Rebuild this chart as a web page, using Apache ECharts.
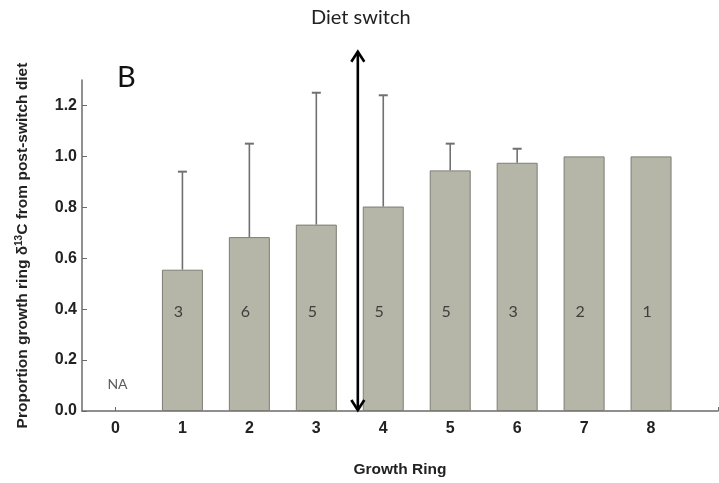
<!DOCTYPE html>
<html><head><meta charset="utf-8">
<script src="https://cdn.jsdelivr.net/npm/echarts@6/dist/echarts.min.js"></script>
<style>html,body{margin:0;padding:0;background:#fff}#c{width:719px;height:483px}</style>
</head><body><div id="c"></div>
<script>
const rings = [1, 2, 3, 4, 5, 6, 7, 8];
const proportions = [0.555, 0.683, 0.732, 0.803, 0.945, 0.975, 1.0, 1.0];
const upperErrors = [0.94, 1.05, 1.25, 1.24, 1.05, 1.03, null, null];
const sampleSizes = ['3', '6', '5', '5', '5', '3', '2', '1'];
const naRing = 0;
const naLabel = 'NA';
const xTickLabels = [0, 1, 2, 3, 4, 5, 6, 7, 8];
const yTickLabels = [0, 0.2, 0.4, 0.6, 0.8, 1.0, 1.2];
const dietSwitchRing = 3.62;
const dietSwitchTop = 1.415;

const barData = rings.map((r, i) => [r, proportions[i]]);
const errData = rings.map((r, i) => [r, proportions[i], upperErrors[i]]).filter(d => d[2] != null);
const countData = rings.map((r, i) => ({ value: [r, 0.39], name: sampleSizes[i] }));

const chart = echarts.init(document.getElementById('c'), null, { renderer: 'canvas' });
const axisColor = '#6b6b6b';
const boldFont = "'Liberation Sans', Arial, sans-serif";
const plainFont = "Lato, 'Open Sans', sans-serif";

chart.setOption({
  animation: false,
  backgroundColor: '#fff',
  title: [
    { text: 'Diet switch', left: 306, top: 3, textStyle: { fontFamily: plainFont, fontWeight: 'normal', fontSize: 20, color: '#222' } },
    { text: 'B', left: 112, top: 58, textStyle: { fontFamily: plainFont, fontWeight: 'normal', fontSize: 29, color: '#111' } }
  ],
  grid: { left: 82, right: 1, top: 80, bottom: 72, containLabel: false },
  xAxis: {
    type: 'value', min: -0.5, max: 9,
    name: 'Growth Ring', nameLocation: 'middle', nameGap: 51,
    nameTextStyle: { fontFamily: boldFont, fontWeight: 'bold', fontSize: 15.5, color: '#222' },
    axisLine: { show: true, onZero: false, lineStyle: { color: axisColor, width: 1.5 } },
    axisTick: { show: true, inside: true, length: 4, customValues: [0, 1, 2, 3, 4, 5, 6, 7, 8, 9], lineStyle: { color: axisColor } },
    axisLabel: { customValues: xTickLabels, fontFamily: boldFont, fontWeight: 'bold', fontSize: 16, color: '#222', margin: 10, formatter: v => String(v) },
    splitLine: { show: false }
  },
  yAxis: {
    type: 'value', min: 0, max: 1.3,
    name: 'Proportion growth ring δ{sup|13}C from post-switch diet',
    nameLocation: 'middle', nameGap: 51, nameRotate: 90,
    nameTextStyle: { fontFamily: boldFont, fontWeight: 'bold', fontSize: 15.5, color: '#222',
      rich: { sup: { fontFamily: boldFont, fontWeight: 'bold', fontSize: 10, color: '#222', verticalAlign: 'top', padding: [0, 0, 7, 0] } } },
    axisLine: { show: true, onZero: false, lineStyle: { color: axisColor, width: 1.5 } },
    axisTick: { show: true, inside: true, length: 5, customValues: yTickLabels, lineStyle: { color: axisColor } },
    axisLabel: { customValues: yTickLabels, fontFamily: boldFont, fontWeight: 'bold', fontSize: 16, color: '#222', margin: 5, formatter: v => v.toFixed(1) },
    splitLine: { show: false }
  },
  series: [
    {
      type: 'bar', data: barData, barWidth: 41,
      itemStyle: { color: '#b5b5a8', borderColor: '#7d7d75', borderWidth: 1 },
      z: 3
    },
    {
      type: 'custom', data: errData, z: 2,
      renderItem: (params, api) => {
        const x = api.value(0);
        const b = api.coord([x, api.value(1)]);
        const t = api.coord([x, api.value(2)]);
        const st = { stroke: '#707070', lineWidth: 1.6 };
        return { type: 'group', children: [
          { type: 'line', shape: { x1: b[0], y1: b[1], x2: t[0], y2: t[1] }, style: st },
          { type: 'line', shape: { x1: t[0] - 4.5, y1: t[1], x2: t[0] + 4.5, y2: t[1] }, style: { stroke: '#707070', lineWidth: 2 } }
        ] };
      }
    },
    {
      type: 'scatter', data: countData, symbolSize: 0, z: 5,
      label: { show: true, position: 'inside', offset: [-4, 0], formatter: p => p.name, fontFamily: plainFont, fontSize: 16, color: '#222' }
    },
    {
      type: 'scatter', data: [{ value: [naRing, 0.105], name: naLabel }], symbolSize: 0, z: 5,
      label: { show: true, position: 'inside', offset: [2, 0], formatter: p => p.name, fontFamily: plainFont, fontSize: 14, color: '#333' }
    },
    {
      type: 'custom', data: [[dietSwitchRing, 0, dietSwitchTop]], z: 10, clip: false,
      renderItem: (params, api) => {
        const x = api.value(0);
        const b = api.coord([x, api.value(1)]);
        const t = api.coord([x, api.value(2)]);
        const st = { stroke: '#000', lineWidth: 2.6, fill: null, lineJoin: 'miter' };
        return { type: 'group', children: [
          { type: 'line', shape: { x1: b[0], y1: b[1] - 1, x2: t[0], y2: t[1] + 1 }, style: st },
          { type: 'polyline', shape: { points: [[t[0] - 6.5, t[1] + 11], [t[0], t[1] + 1], [t[0] + 6.5, t[1] + 11]] }, style: st },
          { type: 'polyline', shape: { points: [[b[0] - 6.5, b[1] - 11], [b[0], b[1] - 1], [b[0] + 6.5, b[1] - 11]] }, style: st }
        ] };
      }
    }
  ]
});
</script></body></html>
